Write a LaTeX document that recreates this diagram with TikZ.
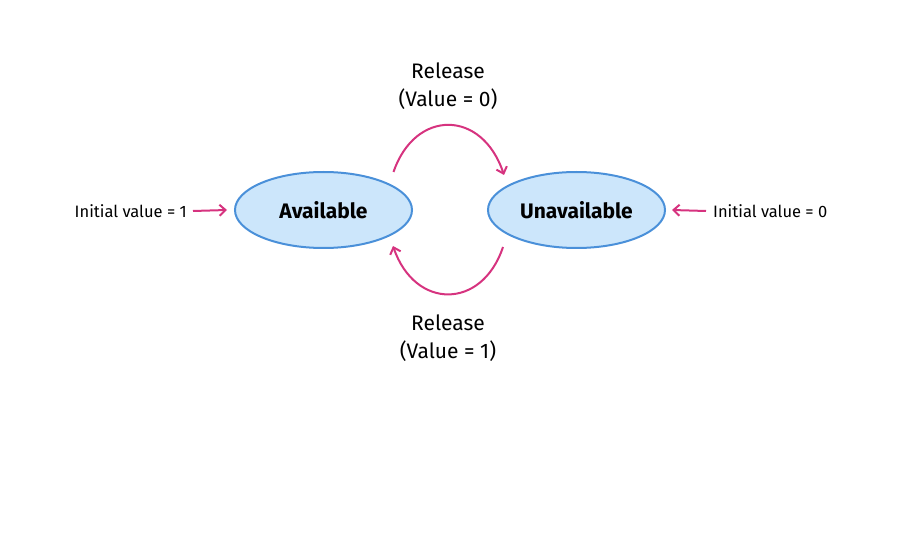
\documentclass[tikz,border=0pt]{standalone}
\usepackage{fontspec}
\setmainfont{Fira Sans}
\usetikzlibrary{shapes.geometric,arrows.meta,calc}
\definecolor{efill}{HTML}{CCE6FB}
\definecolor{edraw}{HTML}{4A90D9}
\definecolor{arrc}{HTML}{D6337F}
\tikzset{
  state/.style={ellipse,draw=edraw,fill=efill,line width=2pt,minimum width=177pt,minimum height=76pt,inner sep=0pt,font=\fontsize{21}{24}\selectfont\bfseries},
  lbl/.style={font=\fontsize{21}{28}\selectfont,align=center,inner sep=0pt},
  ilbl/.style={font=\fontsize{16.5}{18}\selectfont,inner sep=0pt},
  arr/.style={draw=arrc,line width=2pt,-{Straight Barb[length=6pt,width=11pt]}}
}
\begin{document}
\begin{tikzpicture}[x=1pt,y=-1pt]
\useasboundingbox (0,0) rectangle (900,548);
\node[state] (A) at (323.5,210) {Available};
\node[state] (U) at (576.5,210) {Unavailable};
\node[lbl] (t1) at (448,71) {Release};
\node[lbl] (t2) at (448,99) {(Value = 0)};
\node[lbl] (b1) at (448,323) {Release};
\node[lbl] (b2) at (448,351) {(Value = 1)};
\node[ilbl,anchor=east] (il) at (187,211) {Initial value = 1};
\node[ilbl,anchor=west] (ir) at (713,211) {Initial value = 0};
\draw[arr] ([shift={(70,-38)}]A.center) .. controls ([shift={(91.5,-101)}]A.center) and ([shift={(-94.5,-101)}]U.center) .. ([shift={(-72.5,-35)}]U.center);
\draw[arr] ([shift={(-73.5,37)}]U.center) .. controls ([shift={(-94.5,100)}]U.center) and ([shift={(91.5,100)}]A.center) .. ([shift={(69.5,36)}]A.center);
\draw[arr] ([xshift=6pt]il.east) -- ([xshift=-7pt]A.west);
\draw[arr] ([xshift=-7pt]ir.west) -- ([xshift=6pt]U.east);
\end{tikzpicture}
\end{document}
